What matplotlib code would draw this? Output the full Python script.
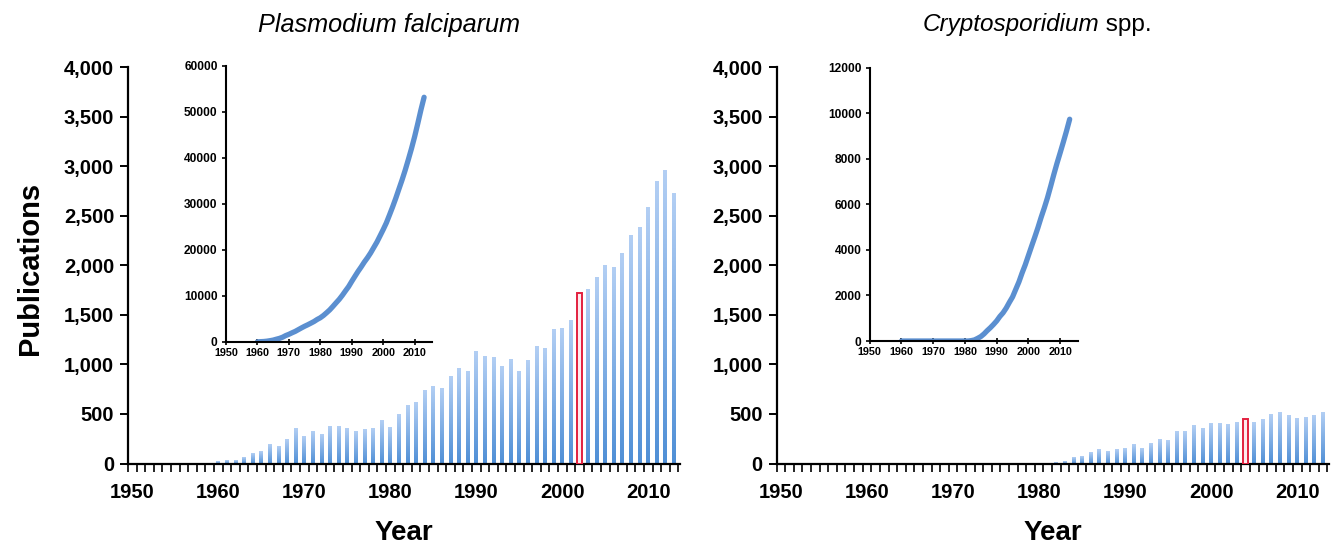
import matplotlib
matplotlib.use("Agg")
import matplotlib.pyplot as plt
import numpy as np
from matplotlib.colors import LinearSegmentedColormap
from matplotlib.ticker import FuncFormatter

plt.rcParams["font.family"] = ["Liberation Sans", "DejaVu Sans"]

YEARS = np.arange(1950, 2014)

# publications per year, 1950-2013
PLASMODIUM = [
    0, 0, 0, 0, 0, 0, 0, 0, 0, 0,
    30, 40, 37, 70, 108, 124, 194, 181, 252, 360,
    275, 325, 302, 380, 380, 360, 325, 350, 360, 443,
    370, 500, 594, 622, 745, 778, 758, 879, 967, 930,
    1139, 1088, 1075, 987, 1055, 937, 1041, 1182, 1169, 1360,
    1367, 1451, 1723, 1763, 1877, 2005, 1985, 2126, 2307, 2388,
    2592, 2851, 2962, 2734,
]
CRYPTO = [
    0, 0, 0, 0, 0, 0, 0, 0, 0, 0,
    0, 0, 0, 0, 0, 0, 0, 0, 0, 0,
    0, 0, 0, 0, 0, 0, 0, 0, 0, 0,
    0, 0, 18, 30, 69, 78, 116, 143, 129, 144,
    156, 194, 159, 209, 252, 237, 330, 327, 392, 361,
    408, 408, 401, 415, 448, 415, 445, 502, 519, 492,
    461, 471, 486, 519,
]
PLASMODIUM_MARK = 2002
CRYPTO_MARK = 2004

MAIN_TICKS = [0, 500, 1000, 1500, 2000, 2500, 3000, 3500, 4000]
YEAR_TICKS = [1950, 1960, 1970, 1980, 1990, 2000, 2010]

BAR_TOP = "#b3cff4"
BAR_BOTTOM = "#4f8fd6"
LINE_COLOR = "#5b8fd0"
MARK_EDGE = "#e3203f"
MARK_FACE = "#fdeaee"

bar_cmap = LinearSegmentedColormap.from_list("bar", [BAR_BOTTOM, BAR_TOP])
grad = np.linspace(0, 1, 256).reshape(-1, 1)


def panel(fig, rect, values, mark_year):
    ax = fig.add_axes(rect)
    values = np.asarray(values, dtype=float)
    blue = YEARS != mark_year
    bars = ax.bar(YEARS[blue], values[blue], width=0.46, zorder=2)
    for bar in bars:
        x, y = bar.get_xy()
        w, h = bar.get_width(), bar.get_height()
        bar.set_facecolor("none")
        bar.set_edgecolor("none")
        if h <= 0:
            continue
        im = ax.imshow(grad, extent=[x, x + w, y, y + h], origin="lower",
                       cmap=bar_cmap, aspect="auto", zorder=2)
        im.set_clip_path(bar)
    ax.bar(YEARS[~blue], values[~blue], width=0.5, facecolor=MARK_FACE,
           edgecolor=MARK_EDGE, linewidth=1.4, zorder=3)

    ax.set_xlim(1949.5, 2013.7)
    ax.set_ylim(0, 4000)
    for side in ("top", "right"):
        ax.spines[side].set_visible(False)
    for side in ("left", "bottom"):
        ax.spines[side].set_linewidth(1.6)

    ax.set_yticks(MAIN_TICKS)
    ax.yaxis.set_major_formatter(FuncFormatter(lambda v, p: f"{int(v):,}"))
    ax.tick_params(axis="y", direction="out", length=6, width=1.4,
                   labelsize=14.5, pad=4)
    for lab in ax.get_yticklabels():
        lab.set_fontweight("bold")

    # ticks between the yearly bars, labels centred under each decade
    ax.set_xticks(np.arange(1949.5, 2014, 1.0))
    ax.set_xticklabels([])
    ax.tick_params(axis="x", which="major", direction="out", length=6, width=1.2)
    ax.set_xticks(YEAR_TICKS, minor=True)
    ax.set_xticklabels([str(y) for y in YEAR_TICKS], minor=True,
                       fontsize=14.5, fontweight="bold")
    ax.tick_params(axis="x", which="minor", length=0, pad=14)
    ax.set_xlabel("Year", fontsize=20, fontweight="bold", labelpad=13)
    return ax


def inset(fig, rect, values, ymax, ystep):
    ax = fig.add_axes(rect)
    values = np.asarray(values, dtype=float)
    total = np.cumsum(values)
    keep = YEARS >= 1960
    ax.plot(YEARS[keep], total[keep], color=LINE_COLOR, linewidth=3.8,
            solid_capstyle="round", solid_joinstyle="round")
    ax.set_xlim(1950, 2015.5)
    ax.set_ylim(0, ymax)
    for side in ("top", "right"):
        ax.spines[side].set_visible(False)
    for side in ("left", "bottom"):
        ax.spines[side].set_linewidth(1.5)
    ax.set_xticks(YEAR_TICKS)
    ax.set_yticks(np.arange(0, ymax + 1, ystep))
    ax.tick_params(axis="x", direction="inout", length=4, width=1.2,
                   labelsize=7.8, pad=2)
    ax.tick_params(axis="y", direction="out", length=3, width=1.2,
                   labelsize=8.6, pad=3)
    for lab in ax.get_xticklabels() + ax.get_yticklabels():
        lab.set_fontweight("bold")
    ax.patch.set_alpha(0)
    return ax


fig = plt.figure(figsize=(13.34, 5.45), dpi=100)

panel(fig, [0.0960, 0.1495, 0.4138, 0.7275], PLASMODIUM, PLASMODIUM_MARK)
panel(fig, [0.5822, 0.1495, 0.4141, 0.7275], CRYPTO, CRYPTO_MARK)
inset(fig, [0.1694, 0.3725, 0.1544, 0.5064], PLASMODIUM, 60000, 10000)
inset(fig, [0.6520, 0.3743, 0.1558, 0.5017], CRYPTO, 12000, 2000)

fig.text(0.0225, 0.508, "Publications", rotation=90, ha="center", va="center",
         fontsize=21, fontweight="bold")

fig.text(389 / 1334, 1 - 25 / 545, "Plasmodium falciparum", ha="center",
         va="center", fontsize=18.2, style="italic")
fig.text(1099 / 1334, 1 - 25 / 545, "Cryptosporidium", ha="right",
         va="center", fontsize=17.5, style="italic")
fig.text(1099 / 1334, 1 - 25 / 545, " spp.", ha="left", va="center",
         fontsize=17.5)

fig.savefig("out.png", dpi=100)
